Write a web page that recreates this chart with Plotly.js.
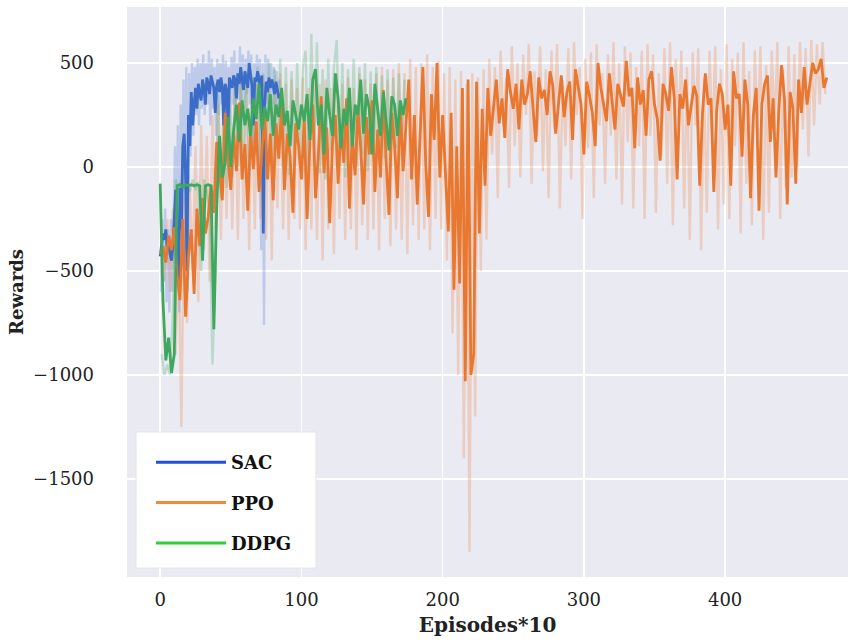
<!DOCTYPE html>
<html>
<head>
<meta charset="utf-8">
<script src="https://cdn.plot.ly/plotly-3.0.1.min.js"></script>
<style>html,body{margin:0;padding:0;background:#fff;}#chart{width:853px;height:643px;}</style>
</head>
<body>
<div id="chart"></div>
<script>
// ---------------- data ----------------
const seriesNames = ["SAC", "PPO", "DDPG"];

// SAC: bold line, one value per episode unit, x = 0..85
const sacStart = 0, sacStep = 1;
const sacMean = [
  -430,-380,-320,-350,-300,-400,-360,-420,-450,-380,
  -200,-110,-450,-560,-100,-300,100,160,-50,-500,
  250,100,360,200,300,380,280,400,350,320,
  420,380,300,430,400,350,440,410,380,260,
  390,420,360,430,380,200,400,370,180,430,
  410,380,440,420,330,450,400,480,420,370,
  460,410,380,500,440,390,200,430,410,460,
  420,380,440,-320,300,410,360,430,380,420,
  390,350,410,360,330,350
];
// SAC: light spread strokes, x = 0.5..84.5
const sacSpreadStart = 0.5, sacSpreadStep = 1;
const sacSpread = [
  -600,-250,-550,-200,-650,-300,-700,-250,-600,-150,
  100,-500,200,-700,300,-300,420,-400,480,-600,
  450,50,500,150,480,250,520,200,500,280,
  540,250,500,300,560,200,520,280,480,150,
  520,250,500,300,540,100,510,280,480,200,
  530,300,560,250,500,320,580,300,540,280,
  520,350,560,300,540,100,500,300,540,350,
  520,-400,500,-760,540,300,520,280,500,300,
  480,250,460,280,420
];

// PPO: bold line, x = 0..472 step 2
const ppoStart = 0, ppoStep = 2;
const ppoMean = [
  -420,-380,-460,-330,-400,-290,-520,-640,-250,-720,-430,-300,
  -610,-200,-380,-150,-320,-240,-90,-220,120,-20,-160,260,40,
  -110,160,-20,310,-60,110,-210,170,-10,220,-120,90,260,-60,160,-160,210,40,300,-110,160,50,-220,210,100,
  -60,230,-250,120,300,-150,60,340,-30,190,-270,110,250,-80,200,20,330,-200,150,-40,280,90,-180,240,60,
  320,-120,180,-50,370,30,-230,260,100,-150,310,-20,200,420,-60,250,-180,160,480,20,-240,350,130,500,-50,
  250,-20,-310,260,-590,100,-560,380,-1030,420,-1000,-900,410,-320,280,-90,
  380,150,300,420,210,330,140,470,360,280,400,180,420,300,350,460,280,120,430,330,
  370,250,460,390,160,300,440,240,360,410,130,470,380,300,60,410,340,260,100,500,380,300,220,450,320,180,400,350,290,510,
  340,380,90,430,300,370,150,420,460,300,230,30,400,350,270,480,330,-60,350,280,420,200,300,390,340,-90,260,450,300,330,-120,270,400,350,180,
  300,-90,460,330,350,50,420,300,-150,250,380,-210,300,400,440,120,330,-50,270,490,330,-180,360,280,-80,420,260,480,300,400,500,450,470,520,380,
  430
];
// PPO: light spread strokes, x = 1..471 step 2
const ppoSpreadStart = 1, ppoSpreadStep = 2;
const ppoSpread = [
  -300,-550,-250,-600,-200,-900,-350,-1250,-150,-750,-100,-500,
  100,-650,200,-400,150,-550,250,-300,300,-350,350,-250,380,
  -300,400,-350,420,-250,380,-400,350,-300,450,-250,400,-350,380,-450,420,-200,450,-300,400,-350,420,-250,380,-300,
  430,-400,380,-300,450,-350,400,-450,420,-300,380,-420,450,-250,400,-350,430,-300,380,-400,450,-280,420,-350,400,
  -300,450,-400,480,-250,420,-380,470,-300,500,-350,450,-420,520,-280,480,-350,500,-300,540,-400,480,-250,510,-300,
  450,-450,480,-800,420,-1000,460,-1400,400,-1850,450,-1200,430,-500,470,-350,
  520,60,480,-150,560,200,430,-100,580,100,500,-50,540,250,590,-80,460,150,580,-20,
  470,-150,560,180,590,-200,420,100,570,-60,600,250,480,-250,520,90,550,-150,590,200,450,-80,540,150,600,-60,500,-180,580,120,
  550,-200,480,100,560,-250,590,150,540,-220,450,50,570,-80,600,-280,520,160,560,-200,480,-350,550,200,570,-400,430,-220,560,100,580,-300,470,-180,590,
  -250,520,100,550,-320,600,-80,460,-280,560,150,580,-350,490,-220,560,180,600,-250,470,-100,580,-50,540,0,600,180,570,50,610,200,590,300,600,350
];

// DDPG: bold line, x = 0..174 step 2
const ddpgStart = 0, ddpgStep = 2;
const ddpgMean = [
  -80,-650,-930,-820,-990,-900,-90,-85,-95,-85,-90,-85,-90,-85,-90,-450,-90,-85,-90,-780,
  -200,150,-50,20,240,0,180,300,120,320,200,280,150,330,230,400,180,290,220,350,
  150,300,240,380,200,270,100,320,250,180,300,220,350,130,420,470,200,300,60,380,
  250,150,450,330,90,280,200,380,100,300,250,420,160,350,280,60,400,270,150,360,
  220,80,340,300,150,320,250,330
];
// DDPG: light spread strokes, x = 1..173 step 2
const ddpgSpreadStart = 1, ddpgSpreadStep = 2;
const ddpgSpread = [
  -900,-1000,-950,-1000,-700,-60,-120,-60,-110,-70,-120,-60,-110,-70,-500,-60,-120,-200,-950,-500,
  350,-150,300,-100,380,-50,420,0,400,50,450,-30,430,60,480,0,450,40,500,-20,
  470,80,520,0,480,-40,460,60,500,20,480,560,-50,640,100,600,-30,470,-60,520,
  80,480,610,0,500,-50,470,40,520,0,480,60,500,-20,460,30,480,80,440,40,
  470,0,430,90,450,100,420
];

const xTicks = [0, 100, 200, 300, 400];
const yTicks = [500, 0, -500, -1000, -1500];

// ---------------- styles ----------------
const lineColors = {SAC: "#3a6cc8", PPO: "#e8772f", DDPG: "#3fa85e"};
const spreadColors = {SAC: "rgba(90,130,215,0.30)", PPO: "rgba(236,135,80,0.30)", DDPG: "rgba(80,175,110,0.30)"};
const legendColors = {SAC: "#1f4fe0", PPO: "#f5883a", DDPG: "#2fcf3a"};

function xs(n, start, step) { const a = []; for (let i = 0; i < n; i++) a.push(start + i * step); return a; }

function spreadTrace(name, vals, start, step) {
  return {
    x: xs(vals.length, start, step), y: vals, type: "scatter", mode: "lines",
    line: {color: spreadColors[name], width: 2.4}, hoverinfo: "skip", showlegend: false
  };
}
function meanTrace(name, vals, start, step) {
  return {
    x: xs(vals.length, start, step), y: vals, type: "scatter", mode: "lines",
    line: {color: lineColors[name], width: 2.8}, showlegend: false, name: name
  };
}
function legendTrace(name) {
  return {
    x: [null], y: [null], type: "scatter", mode: "lines", name: name,
    line: {color: legendColors[name], width: 3}, legendgroup: name, showlegend: true
  };
}

const data = [
  spreadTrace("SAC", sacSpread, sacSpreadStart, sacSpreadStep),
  spreadTrace("PPO", ppoSpread, ppoSpreadStart, ppoSpreadStep),
  spreadTrace("DDPG", ddpgSpread, ddpgSpreadStart, ddpgSpreadStep),
  meanTrace("SAC", sacMean, sacStart, sacStep),
  meanTrace("PPO", ppoMean, ppoStart, ppoStep),
  meanTrace("DDPG", ddpgMean, ddpgStart, ddpgStep)
].concat(seriesNames.map(legendTrace));

const serif = "DejaVu Serif, serif";
const plotL = 127, plotR = 848, plotT = 7, plotB = 577;
const pw = plotR - plotL, ph = plotB - plotT;
const layout = {
  width: 853, height: 643,
  margin: {l: plotL, r: 853 - plotR, t: plotT, b: 643 - plotB},
  paper_bgcolor: "#ffffff", plot_bgcolor: "#eaeaf2",
  showlegend: true,
  xaxis: {
    range: [-23.5, 487], tickvals: xTicks, ticktext: xTicks.map(String),
    showgrid: true, gridcolor: "#ffffff", gridwidth: 1.6, zeroline: false,
    showline: false, ticks: "", ticklabelstandoff: 10,
    tickfont: {family: serif, size: 18, color: "#222"},
    title: {text: "<b>Episodes*10</b>", font: {family: serif, size: 20, color: "#222"}, standoff: 8}
  },
  yaxis: {
    range: [-1971, 769], tickvals: yTicks,
    showgrid: true, gridcolor: "#ffffff", gridwidth: 1.6, zeroline: false,
    showline: false, ticks: "", ticklabelstandoff: 32,
    tickfont: {family: serif, size: 18, color: "#222"},
    title: {text: "<b>Rewards</b>", font: {family: serif, size: 18, color: "#222"}, standoff: 4}
  },
  shapes: [{
    type: "rect", xref: "paper", yref: "paper", layer: "above",
    x0: (136 - plotL) / pw, x1: (316 - plotL) / pw,
    y0: (plotB - 568) / ph, y1: (plotB - 432) / ph,
    fillcolor: "#ffffff", line: {color: "#e4e4e4", width: 1}
  }],
  legend: {
    x: (151 - plotL) / pw, y: (plotB - 444) / ph, xanchor: "left", yanchor: "top",
    bgcolor: "rgba(0,0,0,0)", borderwidth: 0,
    font: {family: serif, size: 18, color: "#111", weight: "bold"},
    itemwidth: 70, traceorder: "grouped", tracegroupgap: 14
  }
};

Plotly.newPlot("chart", data, layout, {displayModeBar: false, staticPlot: true});
</script>
</body>
</html>
